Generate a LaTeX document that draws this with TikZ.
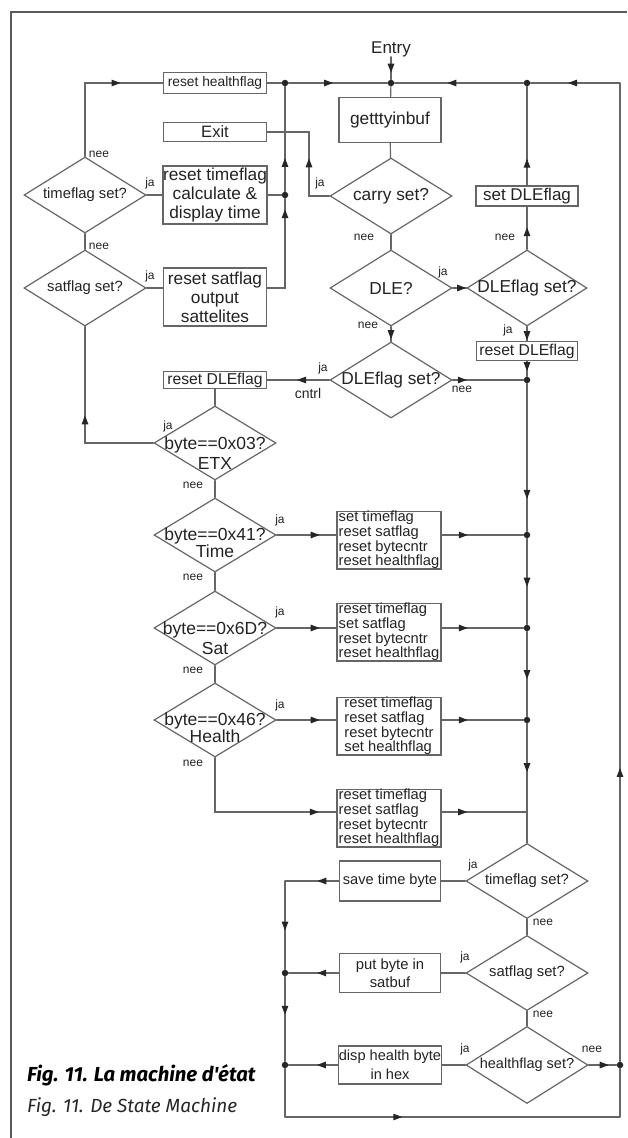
\documentclass[tikz,border=0pt]{standalone}
\usepackage{fontspec}
\setmainfont{Liberation Sans}
\newfontfamily\capfont{Fira Sans}
\usepackage{tikz}
\usetikzlibrary{shapes.geometric,arrows.meta,decorations.markings}
\definecolor{linegray}{HTML}{666666}
\definecolor{txtgray}{HTML}{222222}
\definecolor{framegray}{HTML}{5A5A5A}

\begin{document}
\begin{tikzpicture}[x=1pt,y=-1pt,
  box/.style={draw=linegray, line width=1.2pt, rectangle, minimum width=103pt, align=center},
  quad/.style={box, minimum width=104pt, minimum height=50pt, align=left, font=\fontsize{14.7}{12}\selectfont},
  dia/.style={draw=linegray, line width=1.2pt, diamond, minimum width=122pt, minimum height=76pt},
  dtxt/.style={align=center},
  lbl/.style={font=\fontsize{12}{12}\selectfont},
  wire/.style={draw=linegray, color=linegray, line width=1.2pt, line cap=round},
  arr/.style={postaction={decorate, decoration={markings, mark=at position #1 with {\arrow{Triangle[length=9pt,width=6.5pt,color=black!85]}}}}},
  dot/.style={circle, fill=black!85, minimum size=6.5pt}]
\tikzstyle{every node}+=[inner sep=0pt, text=txtgray]
\useasboundingbox (0,0) rectangle (627,1138);

% frame
\draw [framegray, line width=2pt] (11,1138) -- (11,12) -- (627,12);

% top line
\node [font=\fontsize{17}{17}\selectfont] (entry) at (391,49) {Entry};
\node [dot] (jtop) at (391,83) {};
\node [dot] (jbus) at (285,83) {};
\node [dot] (jdle) at (527,83) {};
\coordinate (ctr) at (620,83);

% left column
\node [box, minimum height=21pt, font=\fontsize{13.8}{14}\selectfont] (rhf) at (215,83) {reset healthflag};
\node [box, minimum height=19pt, font=\fontsize{16.5}{16}\selectfont] (exit) at (215,132) {Exit};
\node [box, minimum height=58pt, font=\fontsize{17.3}{19}\selectfont] (rtime) at (215,195) {reset timeflag\\calculate \&\\display time};
\node [box, minimum height=58pt, font=\fontsize{17.3}{19}\selectfont] (rsat) at (215,297) {reset satflag\\output\\sattelites};
\node [box, minimum height=17pt, font=\fontsize{15.7}{16}\selectfont] (rdlel) at (215,380) {reset DLEflag};
\node [dia, font=\fontsize{14.8}{15}\selectfont] (tfl) at (85,195) {\makebox[0pt]{timeflag set?}};
\node [dia, font=\fontsize{14.8}{15}\selectfont] (sfl) at (85,288) {\makebox[0pt]{satflag set?}};
\node [dot] (btime) at (285,195) {};
\coordinate (cexit) at (309,132);

% centre column
\node [box, minimum width=102pt, minimum height=45pt, font=\fontsize{17.3}{17}\selectfont] (getty) at (390,120) {getttyinbuf};
\node [dia, font=\fontsize{17.3}{17}\selectfont] (carry) at (391,196) {\makebox[0pt]{carry set?}};
\node [dia, font=\fontsize{17.3}{17}\selectfont] (dle) at (391,288) {\makebox[0pt]{DLE?}};
\node [dia, font=\fontsize{17.3}{17}\selectfont] (dflm) at (391,380) {\makebox[0pt]{DLEflag set?}};
\node [dia, minimum width=120pt, font=\fontsize{17.3}{17}\selectfont] (dflr) at (527,288) {\makebox[0pt]{DLEflag set?}};
\node [box, minimum width=102pt, minimum height=20pt, font=\fontsize{17}{17}\selectfont] (setdle) at (527,196) {set DLEflag};
\node [box, minimum width=101pt, minimum height=19pt, font=\fontsize{15.7}{16}\selectfont] (rdler) at (527,351) {reset DLEflag};
\node [dot] (jr1) at (527,380) {};

% byte tests
\node [dia, minimum height=74pt] (etx) at (215,443) {};
\node [dtxt, font=\fontsize{17.5}{20}\selectfont] (etxt) at (215,453) {byte==0x03?\\ETX};
\node [dia, minimum height=74pt] (time) at (215,535) {};
\node [dtxt, font=\fontsize{17.5}{16}\selectfont] (timet) at (215,543) {byte==0x41?\\Time};
\node [dia, minimum height=74pt] (sat) at (215,628) {};
\node [dtxt, font=\fontsize{17.5}{20}\selectfont] (satt) at (215,638) {byte==0x6D?\\Sat};
\node [dia, minimum height=74pt] (health) at (215,720) {};
\node [dtxt, font=\fontsize{17.5}{16}\selectfont] (healtht) at (215,728) {byte==0x46?\\Health};
\node [quad] (bt) at (389,540) {set timeflag\\reset satflag\\reset bytecntr\\reset healthflag};
\node [quad] (bs) at (389,632) {reset timeflag\\set satflag\\reset bytecntr\\reset healthflag};
\node [quad] (bh) at (389,726) {reset timeflag\\reset satflag\\reset bytecntr\\set healthflag};
\node [quad] (bn) at (389,818) {reset timeflag\\reset satflag\\reset bytecntr\\reset healthflag};
\node [dot] (jr2) at (527,535) {};
\node [dot] (jr3) at (527,628) {};
\node [dot] (jr4) at (527,720) {};
\coordinate (jr5) at (527,812);

% bottom part
\node [dia, minimum height=75pt, font=\fontsize{14.8}{15}\selectfont] (tfb) at (527,881) {\makebox[0pt]{timeflag set?}};
\node [dia, minimum height=75pt, font=\fontsize{14.8}{15}\selectfont] (sfb) at (527,973) {\makebox[0pt]{satflag set?}};
\node [dia, minimum height=77pt, font=\fontsize{14.5}{15}\selectfont] (hfb) at (527,1065) {\makebox[0pt]{healthflag set?}};
\node [box, minimum width=101pt, minimum height=40pt, font=\fontsize{14.6}{15}\selectfont] (savet) at (390,881) {save time byte};
\node [box, minimum width=101pt, minimum height=39pt, font=\fontsize{14.8}{18}\selectfont] (putb) at (390,973) {put byte in\\satbuf};
\node [box, minimum width=101pt, minimum height=38pt, font=\fontsize{14.6}{19}\selectfont] (disph) at (390,1065) {disp health byte\\in hex};
\coordinate (jb1) at (285,881);
\node [dot] (jb2) at (285,973) {};
\node [dot] (jb3) at (285,1065) {};
\coordinate (cbl) at (285,1117);
\coordinate (cbr) at (620,1117);
\node [dot] (jo) at (620,1065) {};

% ja / nee
\node [lbl] (n1) at (99,154) {nee};
\node [lbl] (j1) at (150,183) {ja};
\node [lbl] (n2) at (99,246) {nee};
\node [lbl] (j2) at (150,276) {ja};
\node [lbl] (j3) at (168,426) {ja};
\node [lbl] (j4) at (320,183) {ja};
\node [lbl] (n3) at (364,237) {nee};
\node [lbl] (j5) at (443,272) {ja};
\node [lbl] (n4) at (368,325) {nee};
\node [lbl] (n5) at (505,237) {nee};
\node [lbl] (j6) at (508,330) {ja};
\node [lbl] (j7) at (323,368) {ja};
\node [font=\fontsize{14}{14}\selectfont] (cntrl) at (308,393) {cntrl};
\node [lbl] (n6) at (462,389) {nee};
\node [lbl] (n7) at (193,485) {nee};
\node [lbl] (j8) at (280,520) {ja};
\node [lbl] (n8) at (193,577) {nee};
\node [lbl] (j9) at (280,612) {ja};
\node [lbl] (n9) at (193,670) {nee};
\node [lbl] (j10) at (280,705) {ja};
\node [lbl] (n10) at (193,763) {nee};
\node [lbl] (j11) at (473,865) {ja};
\node [lbl] (n11) at (543,922) {nee};
\node [lbl] (j12) at (465,957) {ja};
\node [lbl] (n12) at (543,1014) {nee};
\node [lbl] (j13) at (465,1049) {ja};
\node [lbl] (n13) at (592,1049) {nee};

% connectors, left
\draw [wire, arr=0.72] (tfl.north) |- (rhf.west);
\draw [wire, arr=0.52] (rhf.east) -- (jbus) -- (jtop);
\draw [wire] (tfl.east) -- (rtime.west);
\draw [wire] (rtime.east) -- (btime);
\draw [wire] (tfl.south) -- (sfl.north);
\draw [wire] (sfl.east) -- (sfl.east -| rsat.west);
\draw [wire, arr=0.9] (sfl.east -| rsat.east) -| (btime);
\draw [wire, arr=0.32] (btime) -- (jbus);
\draw [wire, arr=0.52] (etx.west) -| (sfl.south);
\draw [wire, arr=0.46] (carry.west) -| (cexit) -- (exit.east);

% connectors, centre
\draw [wire, arr=0.7] (entry) -- (jtop);
\draw [wire] (jtop) -- (getty);
\draw [wire] (getty) -- (carry);
\draw [wire] (carry) -- (dle);
\draw [wire, arr=0.98] (dle) -- (dflr);
\draw [wire, arr=0.85] (dle) -- (dflm);
\draw [wire, arr=0.52] (dflr) -- (setdle);
\draw [wire, arr=0.27] (setdle) -- (jdle);
\draw [wire, arr=0.95] (dflr) -- (rdler);
\draw [wire, arr=0.65] (rdler) -- (jr1);
\draw [wire, arr=0.2] (dflm) -- (jr1);
\draw [wire, arr=0.52] (dflm) -- (rdlel);
\draw [wire] (rdlel) -- (etx);
\draw [wire] (etx) -- (time);
\draw [wire] (time) -- (sat);
\draw [wire] (sat) -- (health);
\draw [wire, arr=0.72] (time.east) -- (time.east -| bt.west);
\draw [wire, arr=0.72] (sat.east) -- (sat.east -| bs.west);
\draw [wire, arr=0.72] (health.east) -- (health.east -| bh.west);
\draw [wire, arr=0.9] (health.south) |- (jr5 -| bn.west);
\draw [wire, arr=0.32] (time.east -| bt.east) -- (jr2);
\draw [wire, arr=0.32] (sat.east -| bs.east) -- (jr3);
\draw [wire, arr=0.32] (health.east -| bh.east) -- (jr4);
\draw [wire, arr=0.3] (jr5 -| bn.east) -- (jr5);
\draw [wire, arr=0.78] (jr1) -- (jr2);
\draw [wire, arr=0.56] (jr2) -- (jr3);
\draw [wire, arr=0.56] (jr3) -- (jr4);
\draw [wire, arr=0.55] (jr4) -- (jr5);
\draw [wire] (jr5) -- (tfb);

% connectors, bottom
\draw [wire] (tfb.west) -- (savet.east);
\draw [wire, arr=0.4] (savet) -- (jb1);
\draw [wire, arr=0.56] (jb1) -- (jb2);
\draw [wire] (tfb) -- (sfb);
\draw [wire] (sfb.west) -- (putb.east);
\draw [wire, arr=0.43] (putb) -- (jb2);
\draw [wire, arr=0.45] (jb2) -- (jb3);
\draw [wire] (sfb) -- (hfb);
\draw [wire] (hfb.west) -- (disph.east);
\draw [wire, arr=0.43] (disph) -- (jb3);
\draw [wire] (jb3) -- (cbl);
\draw [wire, arr=0.35] (cbl) -- (cbr);
\draw [wire] (cbr) -- (jo);
\draw [wire, arr=0.72] (hfb.east) -- (jo);
\draw [wire, arr=0.3] (jo) -- (ctr);
\draw [wire, arr=0.58] (ctr) -- (jdle);
\draw [wire, arr=0.59] (jdle) -- (jtop);

% caption
\node [anchor=west, text=black, font=\capfont\fontsize{20.3}{20}\selectfont\bfseries\itshape] (capfr) at (27,1075) {Fig. 11. La machine d'état};
\node [anchor=west, text=black!85, font=\capfont\fontsize{19}{20}\selectfont\itshape] (capnl) at (27,1107) {Fig. 11. De State Machine};
\end{tikzpicture}
\end{document}
